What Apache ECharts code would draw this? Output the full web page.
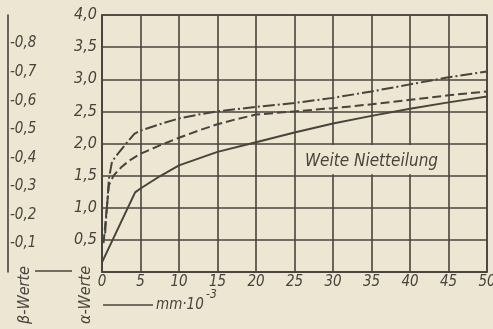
<!DOCTYPE html>
<html><head><meta charset="utf-8">
<script src="https://cdn.jsdelivr.net/npm/echarts@6/dist/echarts.min.js"></script>
<style>html,body{margin:0;padding:0;background:#ece6d3}#c{width:493px;height:329px}</style>
</head><body><div id="c"></div>
<script>
// Verschiebung (mm·10^-3) und α-Werte der drei Kurven
const wegSolid = [0, 4.3, 5, 7.5, 10, 15, 20, 25, 30, 35, 40, 45, 50];
const alphaSolid = [0.15, 1.24, 1.30, 1.49, 1.66, 1.87, 2.02, 2.17, 2.31, 2.43, 2.54, 2.64, 2.73];
const wegDashed = [0.2, 0.9, 1.5, 2.5, 3.5, 5, 7.5, 10, 12.5, 15, 17.5, 20, 25, 30, 35, 40, 45, 50];
const alphaDashed = [0.45, 1.35, 1.50, 1.63, 1.73, 1.84, 1.97, 2.09, 2.20, 2.30, 2.38, 2.45, 2.50, 2.55, 2.61, 2.68, 2.75, 2.81];
const wegDashDot = [0.4, 0.9, 1.3, 2, 3, 4.2, 5, 7.5, 10, 12.5, 15, 20, 25, 30, 35, 40, 45, 50];
const alphaDashDot = [0.6, 1.45, 1.72, 1.83, 1.98, 2.15, 2.2, 2.3, 2.39, 2.45, 2.5, 2.57, 2.63, 2.71, 2.81, 2.92, 3.03, 3.12];

// Achsenbereiche
const wegRange = [0, 50, 5];
const alphaRange = [0, 4, 0.5];
const betaRange = [-0.9, 0, 0.1];

const ink = '#48443c';
const paper = '#ece6d3';
const font = '"Liberation Sans Narrow", "DejaVu Sans Condensed", sans-serif';
const komma = v => v.toFixed(1).replace('.', ',');
const zip = (xs, ys) => xs.map((x, i) => [x, ys[i]]);

const chart = echarts.init(document.getElementById('c'));
const G = { left: 102, right: 6, top: 15, bottom: 57 };

chart.setOption({
  backgroundColor: paper,
  animation: false,
  grid: Object.assign({ containLabel: false, outerBoundsMode: 'none', show: true,
    borderColor: ink, borderWidth: 1.6, backgroundColor: 'transparent' }, G),
  xAxis: {
    type: 'value', min: wegRange[0], max: wegRange[1], interval: wegRange[2],
    axisLine: { show: true, lineStyle: { color: ink, width: 1.6 } },
    axisTick: { show: false },
    splitLine: { show: true, lineStyle: { color: ink, width: 1.6 } },
    axisLabel: { margin: 3, color: ink, fontFamily: font, fontStyle: 'italic', fontSize: 15,
      formatter: v => String(v) }
  },
  yAxis: [{
    type: 'value', min: alphaRange[0], max: alphaRange[1], interval: alphaRange[2],
    axisLine: { show: true, lineStyle: { color: ink, width: 1.6 } },
    axisTick: { show: false },
    splitLine: { show: true, lineStyle: { color: ink, width: 1.6 } },
    axisLabel: { margin: 5, color: ink, fontFamily: font, fontStyle: 'italic', fontSize: 16,
      formatter: v => v === 0 ? '' : komma(v) }
  }, {
    type: 'value', position: 'left', offset: 94, inverse: true,
    min: betaRange[0], max: betaRange[1], interval: betaRange[2],
    axisLine: { show: true, onZero: false, lineStyle: { color: ink, width: 1.6 } },
    axisTick: { show: false },
    splitLine: { show: false },
    axisLabel: { inside: true, margin: 2, color: ink, fontFamily: font, fontStyle: 'italic', fontSize: 15,
      formatter: v => (Math.abs(v) < 1e-9 || v < -0.85) ? '' : komma(v) }
  }],
  series: [
    { type: 'line', data: zip(wegSolid, alphaSolid), showSymbol: false, symbol: 'none',
      lineStyle: { color: ink, width: 2 }, z: 5 },
    { type: 'line', data: zip(wegDashed, alphaDashed), showSymbol: false, symbol: 'none',
      lineStyle: { color: ink, width: 2, type: [9, 4] }, z: 5 },
    { type: 'line', data: zip(wegDashDot, alphaDashDot), showSymbol: false, symbol: 'none',
      lineStyle: { color: ink, width: 2, type: [12, 3, 2, 3] }, z: 5 }
  ]
});

// Beschriftungsfeld und Achsentitel
const p = (x, y) => chart.convertToPixel({ gridIndex: 0 }, [x, y]);
const boxA = p(26, 2.0), boxB = p(44.2, 1.5), txt = p(35, 1.72);
const bottomY = p(0, 0)[1];
const leftX = p(0, 0)[0];

chart.setOption({
  graphic: [
    { type: 'rect', z: 10, shape: { x: boxA[0], y: boxA[1] + 1.5, width: boxB[0] - boxA[0], height: boxB[1] - boxA[1] - 3 },
      style: { fill: paper } },
    { type: 'text', z: 11, x: txt[0], y: txt[1],
      style: { text: 'Weite Nietteilung', fill: ink, font: 'italic 17px ' + font, align: 'center', verticalAlign: 'middle' } },
    { type: 'line', z: 10, shape: { x1: 35, y1: bottomY - 1, x2: 72, y2: bottomY - 1 },
      style: { stroke: ink, lineWidth: 1.5 } },
    { type: 'text', z: 10, x: 25, y: 295, rotation: Math.PI / 2,
      style: { text: 'β-Werte', fill: ink, font: 'italic 16px ' + font, align: 'center', verticalAlign: 'middle' } },
    { type: 'text', z: 10, x: 86, y: 295, rotation: Math.PI / 2,
      style: { text: 'α-Werte', fill: ink, font: 'italic 16px ' + font, align: 'center', verticalAlign: 'middle' } },
    { type: 'line', z: 10, shape: { x1: leftX + 1, y1: 305, x2: leftX + 51, y2: 305 },
      style: { stroke: ink, lineWidth: 1.5 } },
    { type: 'text', z: 10, x: leftX + 54, y: 305,
      style: { text: 'mm·10', fill: ink, font: 'italic 15px ' + font, align: 'left', verticalAlign: 'middle' } },
    { type: 'text', z: 10, x: leftX + 104, y: 295,
      style: { text: '-3', fill: ink, font: 'italic 12px ' + font, align: 'left', verticalAlign: 'middle' } }
  ]
});
</script>
</body></html>
